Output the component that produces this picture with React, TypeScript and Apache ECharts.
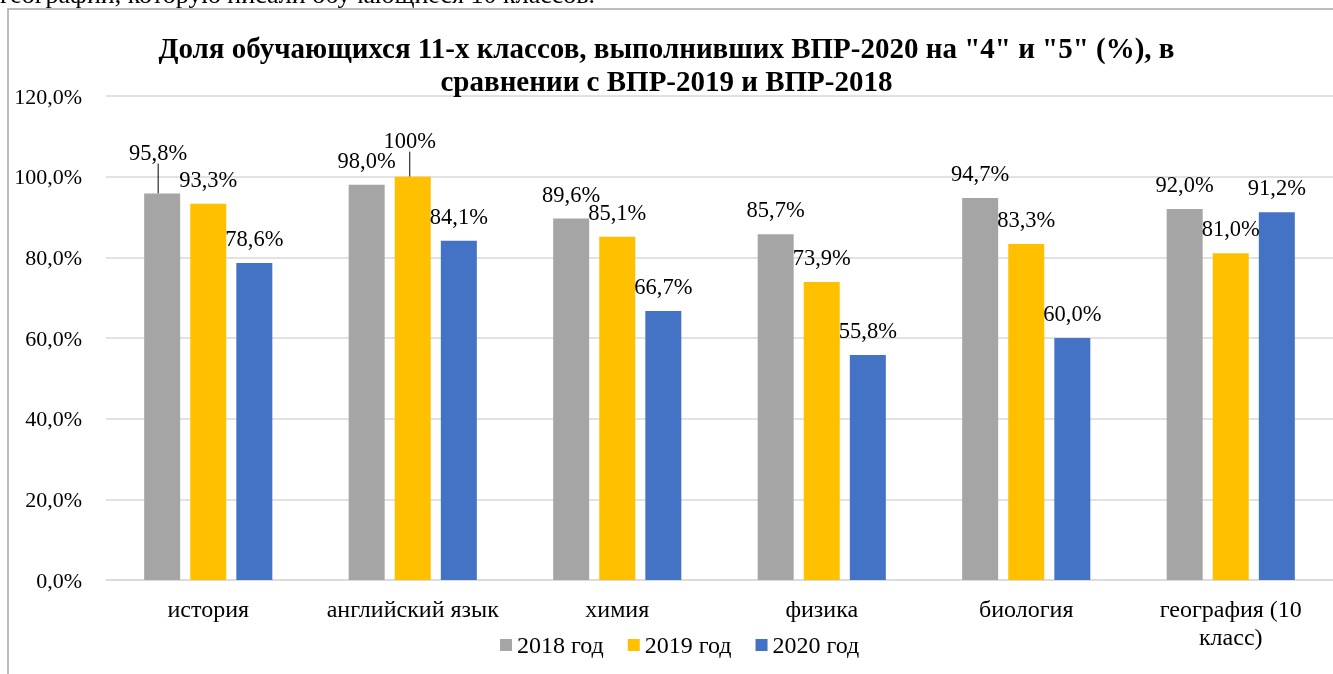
import React, { useEffect, useRef } from "react";
import * as echarts from "echarts";

const categories = ["история", "английский язык", "химия", "физика", "биология", "география (10 класс)"];
const seriesNames = ["2018 год", "2019 год", "2020 год"];
const values2018 = [95.8, 98.0, 89.6, 85.7, 94.7, 92.0];
const values2019 = [93.3, 100, 85.1, 73.9, 83.3, 81.0];
const values2020 = [78.6, 84.1, 66.7, 55.8, 60.0, 91.2];
const colors = ["#a5a5a5", "#ffc000", "#4472c4"];
const yTicks = { min: 0, max: 120, interval: 20 };
const titleText = 'Доля обучающихся 11-х классов, выполнивших ВПР-2020 на "4" и "5" (%), в\nсравнении с ВПР-2019 и ВПР-2018';
const topCutText = "географии, которую писали обучающиеся 10 классов.";

const FONT = '"Liberation Serif", "Times New Roman", serif';

const fmtPct = (v: number) => (v === 100 ? "100%" : v.toFixed(1).replace(".", ",") + "%");

export default function App() {
  const ref = useRef<HTMLDivElement>(null);
  useEffect(() => {
    if (!ref.current) return;
    const chart = echarts.init(ref.current, undefined, { renderer: "svg" });
    const allValues = [values2018, values2019, values2020];
    const moved: Record<number, Record<number, { dx: number; dy: number }>> = {
      0: { 0: { dx: -4, dy: -17 } },
      1: { 1: { dx: -3, dy: -12 } },
    };
    chart.setOption({
      animation: false,
      textStyle: { fontFamily: FONT, color: "#000" },
      title: {
        text: titleText,
        left: "center",
        top: 26,
        textStyle: { fontFamily: FONT, fontSize: 29, fontWeight: "bold", color: "#000", lineHeight: 33 },
      },
      graphic: [
        {
          type: "rect",
          shape: { x: 8, y: 9, width: 1400, height: 700 },
          style: { fill: "none", stroke: "#a6a6a6", lineWidth: 1.5 },
          silent: true,
          z: -1,
        },
        {
          type: "text",
          x: 0,
          y: 7,
          style: { text: topCutText, font: `26px ${FONT}`, fill: "#000", verticalAlign: "bottom" },
        },
      ],
      legend: {
        data: seriesNames,
        bottom: 12,
        left: 495,
        itemWidth: 12,
        itemHeight: 12,
        itemGap: 24,
        icon: "rect",
        textStyle: { fontFamily: FONT, fontSize: 24, color: "#000" },
      },
      grid: { left: 106, top: 96, width: 1234, height: 484, containLabel: false },
      xAxis: {
        type: "category",
        data: categories,
        axisTick: { show: false },
        axisLine: { lineStyle: { color: "#d9d9d9", width: 1.5 } },
        axisLabel: {
          fontFamily: FONT,
          fontSize: 24,
          color: "#000",
          margin: 15,
          lineHeight: 28,
          interval: 0,
          formatter: (v: string) => v.replace(" класс)", "\nкласс)"),
        },
      },
      yAxis: {
        type: "value",
        min: yTicks.min,
        max: yTicks.max,
        interval: yTicks.interval,
        axisLine: { show: false },
        axisTick: { show: false },
        axisLabel: {
          fontFamily: FONT,
          fontSize: 22,
          color: "#000",
          margin: 24,
          formatter: (v: number) => v.toFixed(1).replace(".", ",") + "%",
        },
        splitLine: { lineStyle: { color: "#d9d9d9", width: 1.5 } },
      },
      series: seriesNames.map((name, si) => ({
        name,
        type: "bar",
        data: allValues[si].map((v, di) =>
          moved[si] && moved[si][di] ? { value: v, labelLine: { show: true } } : v
        ),
        barWidth: 36,
        barGap: "28%",
        itemStyle: { color: colors[si] },
        label: {
          show: true,
          position: "top",
          distance: 13,
          fontFamily: FONT,
          fontSize: 22.5,
          color: "#000",
          formatter: (p: any) => fmtPct(p.value),
        },
        labelLine: { show: false, lineStyle: { color: "#000", width: 1 } },
        labelLayout: (p: any) => {
          const m = moved[si] && moved[si][p.dataIndex];
          return m ? { dx: m.dx, dy: m.dy } : {};
        },
      })),
    });
    return () => chart.dispose();
  }, []);
  return <div ref={ref} style={{ position: "fixed", left: 0, top: 0, width: 1333, height: 674 }} />;
}
